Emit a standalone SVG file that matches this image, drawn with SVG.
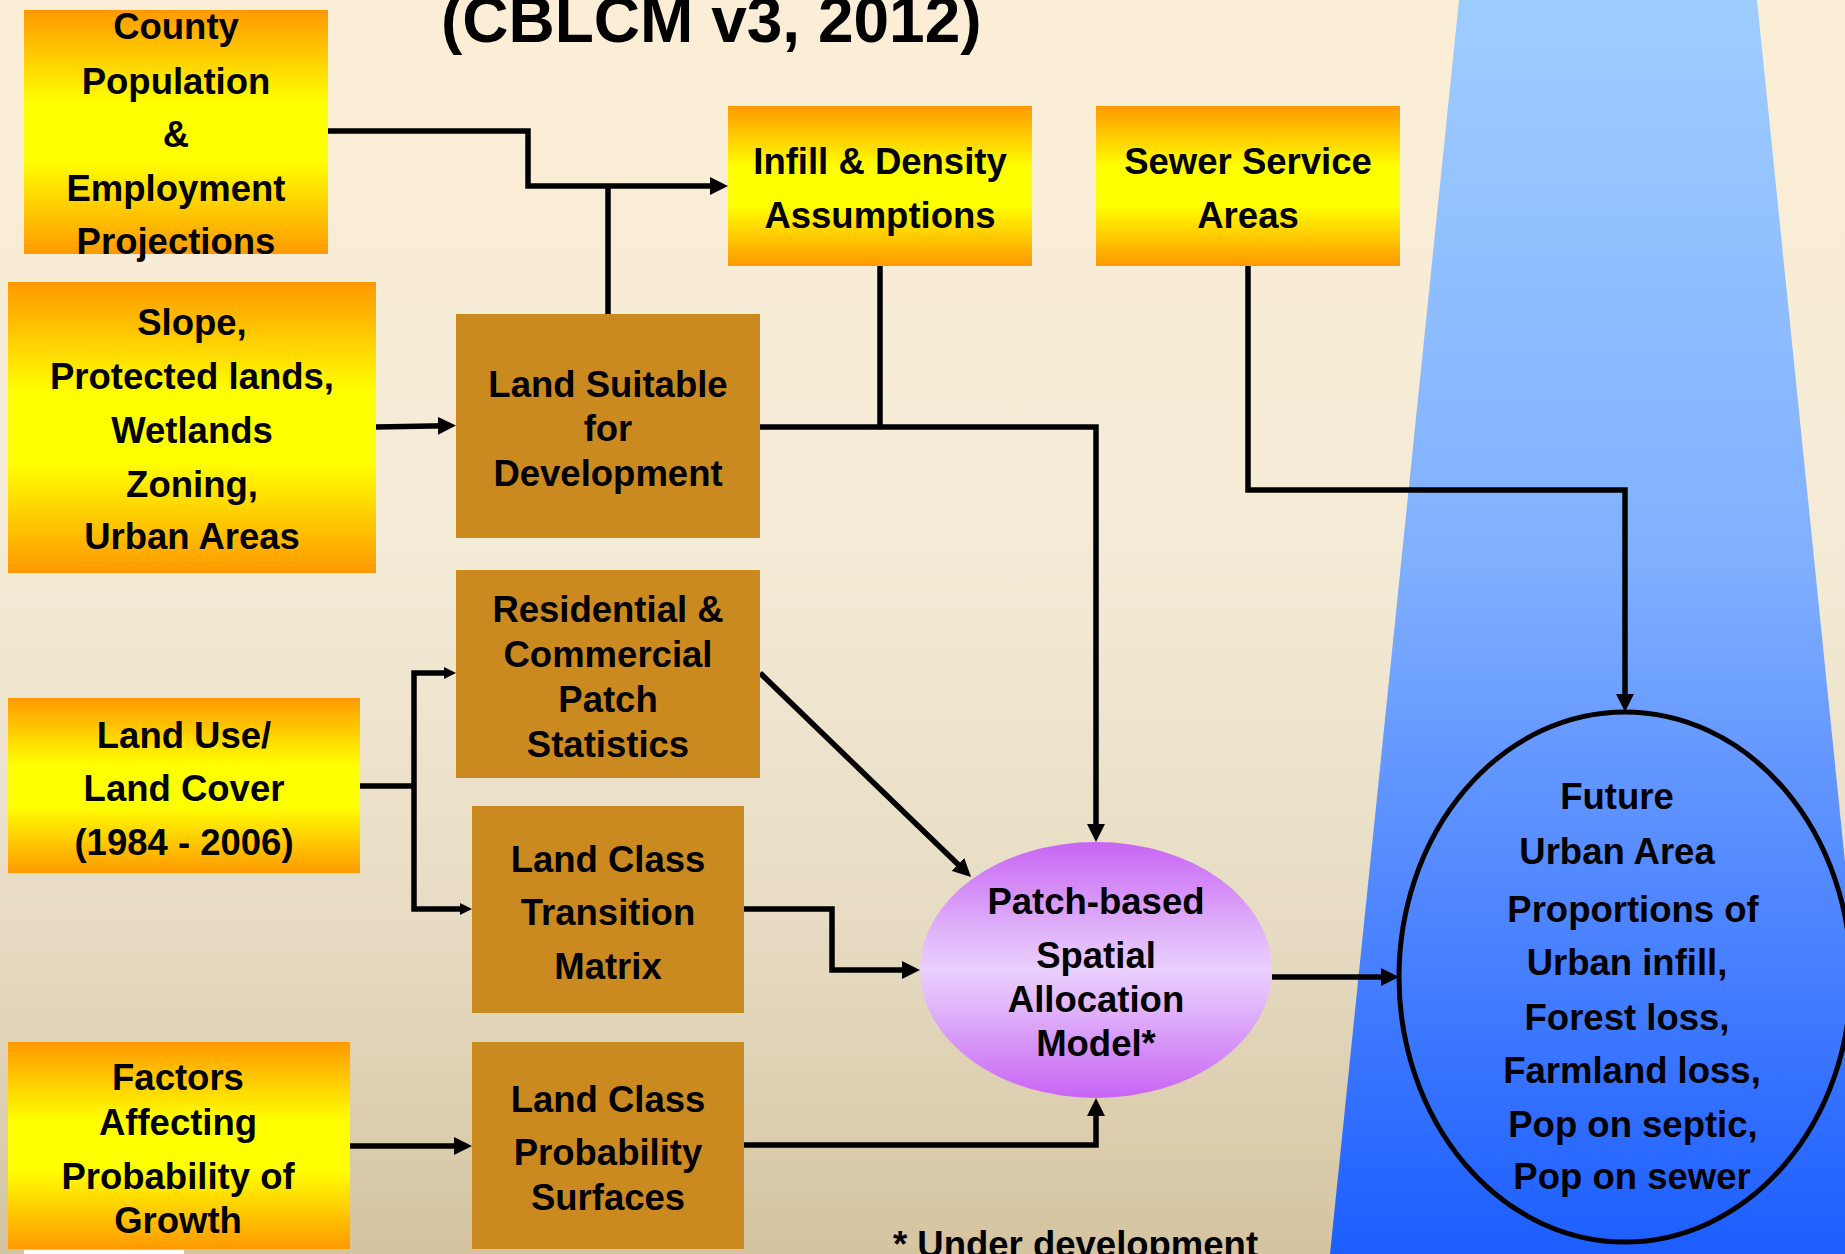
<svg xmlns="http://www.w3.org/2000/svg" width="1845" height="1254" viewBox="0 0 1845 1254">
<defs>
<linearGradient id="bg" x1="0" y1="0" x2="0" y2="1">
<stop offset="0" stop-color="#FCEED6"/>
<stop offset="0.45" stop-color="#F4EBD6"/>
<stop offset="0.75" stop-color="#E6DBC2"/>
<stop offset="1" stop-color="#D4C4A0"/>
</linearGradient>
<linearGradient id="blue" x1="0" y1="0" x2="0" y2="1">
<stop offset="0" stop-color="#9ECDFF"/>
<stop offset="0.45" stop-color="#80AFFF"/>
<stop offset="0.75" stop-color="#4A82FF"/>
<stop offset="1" stop-color="#1C5EFF"/>
</linearGradient>
<linearGradient id="oy" x1="0" y1="0" x2="0" y2="1">
<stop offset="0" stop-color="#FF9900"/>
<stop offset="0.38" stop-color="#FFFF00"/>
<stop offset="0.62" stop-color="#FFFF00"/>
<stop offset="1" stop-color="#FF9900"/>
</linearGradient>
<linearGradient id="purp" x1="0" y1="0" x2="0" y2="1">
<stop offset="0" stop-color="#C864F4"/>
<stop offset="0.35" stop-color="#E0B4FA"/>
<stop offset="0.5" stop-color="#E9CFFF"/>
<stop offset="0.65" stop-color="#E0B4FA"/>
<stop offset="1" stop-color="#C864F4"/>
</linearGradient>
<marker id="arr" markerUnits="userSpaceOnUse" markerWidth="18" markerHeight="18" refX="8" refY="9" orient="auto">
<path d="M0,0 L18,9 L0,18 z" fill="#000"/>
</marker>
<marker id="arrs" markerUnits="userSpaceOnUse" markerWidth="12" markerHeight="12" refX="4" refY="6" orient="auto">
<path d="M0,0 L12,6 L0,12 z" fill="#000"/>
</marker>
</defs>
<style>
text{font-family:"Liberation Sans",Arial,sans-serif;font-weight:bold;font-size:36.5px;fill:#000;text-anchor:middle}
.oy{fill:url(#oy)}
.tan{fill:#CB8A1F}
.c{fill:none;stroke:#000;stroke-width:5.5;stroke-linejoin:miter}
.a{marker-end:url(#arr)}
.s{marker-end:url(#arrs)}
</style>
<rect x="0" y="0" width="1845" height="1254" fill="url(#bg)"/>
<polygon points="1459,0 1757,0 1885,1254 1330,1254" fill="url(#blue)"/>
<text x="441" y="42" style="font-size:64px;text-anchor:start">(CBLCM v3, 2012)</text>
<rect x="24" y="1250" width="160" height="4" fill="#FFFFFF"/>

<g id="connectors">
<path class="c a" d="M328,131 H528 V186 H718"/>
<path class="c" d="M608,314 V186"/>
<path class="c a" d="M376,427 L446,425.7"/>
<path class="c" d="M880,266 V427"/>
<path class="c a" d="M760,427 H1096 V832"/>
<path class="c a" d="M1248,266 V490 H1625 V702"/>
<path class="c a" d="M760,673 L963.8,870"/>
<path class="c" d="M360,786 H414"/>
<path class="c s" d="M414,786 V673 H448"/>
<path class="c s" d="M414,786 V909 H464"/>
<path class="c a" d="M744,909 H832 V970 H910"/>
<path class="c a" d="M350,1146 H462"/>
<path class="c a" d="M744,1145 H1096 V1108"/>
<path class="c a" d="M1272,977 H1389"/>
</g>

<g id="county">
<rect class="oy" x="24" y="10" width="304" height="244"/>
<text x="176" y="39">County</text>
<text x="176" y="94">Population</text>
<text x="176" y="147">&amp;</text>
<text x="176" y="201">Employment</text>
<text x="176" y="254">Projections</text>
</g>
<g id="infill">
<rect class="oy" x="728" y="106" width="304" height="160"/>
<text x="880" y="174">Infill &amp; Density</text>
<text x="880" y="228">Assumptions</text>
</g>
<g id="sewer">
<rect class="oy" x="1096" y="106" width="304" height="160"/>
<text x="1248" y="174">Sewer Service</text>
<text x="1248" y="228">Areas</text>
</g>
<g id="slope">
<rect class="oy" x="8" y="282" width="368" height="291"/>
<text x="192" y="335">Slope,</text>
<text x="192" y="389">Protected lands,</text>
<text x="192" y="443">Wetlands</text>
<text x="192" y="497">Zoning,</text>
<text x="192" y="549">Urban Areas</text>
</g>
<g id="suitable">
<rect class="tan" x="456" y="314" width="304" height="224"/>
<text x="608" y="397">Land Suitable</text>
<text x="608" y="441">for</text>
<text x="608" y="486">Development</text>
</g>
<g id="residential">
<rect class="tan" x="456" y="570" width="304" height="208"/>
<text x="608" y="622">Residential &amp;</text>
<text x="608" y="667">Commercial</text>
<text x="608" y="712">Patch</text>
<text x="608" y="757">Statistics</text>
</g>
<g id="landuse">
<rect class="oy" x="8" y="698" width="352" height="175"/>
<text x="184" y="748">Land Use/</text>
<text x="184" y="801">Land Cover</text>
<text x="184" y="855">(1984 - 2006)</text>
</g>
<g id="transition">
<rect class="tan" x="472" y="806" width="272" height="207"/>
<text x="608" y="872">Land Class</text>
<text x="608" y="925">Transition</text>
<text x="608" y="979">Matrix</text>
</g>
<g id="factors">
<rect class="oy" x="8" y="1042" width="342" height="207"/>
<text x="178" y="1090">Factors</text>
<text x="178" y="1135">Affecting</text>
<text x="178" y="1189">Probability of</text>
<text x="178" y="1233">Growth</text>
</g>
<g id="probability">
<rect class="tan" x="472" y="1042" width="272" height="207"/>
<text x="608" y="1112">Land Class</text>
<text x="608" y="1165">Probability</text>
<text x="608" y="1210">Surfaces</text>
</g>
<g id="patch">
<ellipse cx="1096" cy="970" rx="176" ry="128" fill="url(#purp)"/>
<text x="1096" y="914">Patch-based</text>
<text x="1096" y="968">Spatial</text>
<text x="1096" y="1012">Allocation</text>
<text x="1096" y="1056">Model*</text>
</g>
<g id="future">
<ellipse cx="1625" cy="977" rx="226" ry="265" fill="none" stroke="#000" stroke-width="5"/>
<text x="1617" y="809">Future</text>
<text x="1617" y="864">Urban Area</text>
<text x="1633" y="922">Proportions of</text>
<text x="1627" y="975">Urban infill,</text>
<text x="1627" y="1030">Forest loss,</text>
<text x="1632" y="1083">Farmland loss,</text>
<text x="1633" y="1137">Pop on septic,</text>
<text x="1632" y="1189">Pop on sewer</text>
</g>
<text x="893" y="1257" style="text-anchor:start">* Under development</text>
</svg>
